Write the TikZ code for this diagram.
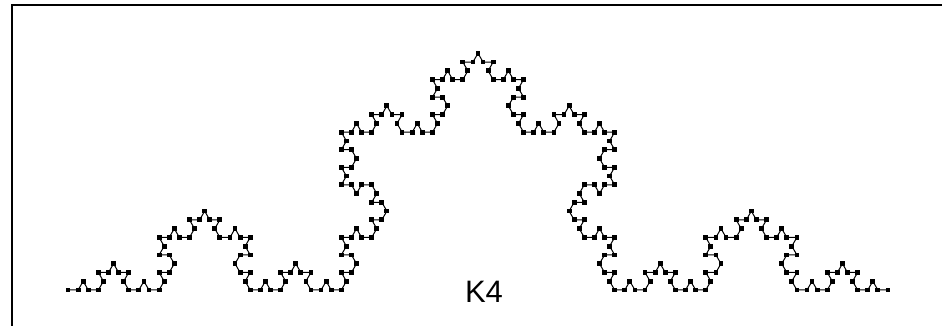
\documentclass[tikz,border=0pt]{standalone}
\usepackage{fontspec}
\setmainfont{Liberation Sans}
\usetikzlibrary{calc}

\begin{document}
\begin{tikzpicture}[
  x=1pt,y=1pt,
  declare function={kturn(\d)=(\d==1)*60-(\d==2)*60;},
  curve/.style={line width=1pt,black},
  vtx/.style={rectangle,fill=black,inner sep=0pt,minimum size=4.8pt},
  frame/.style={line width=2pt,black},
  lbl/.style={font=\fontsize{31}{32}\selectfont}
]
\useasboundingbox (0,0) rectangle (942,326);

% frame, cut off at the right and bottom
\coordinate (f1) at (12,0);
\coordinate (f2) at (12,320.5);
\coordinate (f3) at (942,320.5);
\draw[frame] (f1) -- (f2) -- (f3);

% Koch curve of level 4: 256 segments
\def\seg{10.1235pt}
\coordinate (p0) at (68,36);
\foreach \i in {0,...,255}{
  \pgfmathsetmacro\ang{kturn(mod(\i,4))+kturn(mod(floor(\i/4),4))
    +kturn(mod(floor(\i/16),4))+kturn(floor(\i/64))}
  \pgfmathtruncatemacro\k{\i+1}
  \coordinate (p\k) at ($(p\i)+(\ang:\seg)$);
}
\draw[curve] (p0) \foreach \i in {1,...,256}{ -- (p\i)};
\foreach \i in {0,...,256}{
  \node[vtx] at (p\i) {};
}

\node[lbl] (name) at (484,34) {K4};
\end{tikzpicture}
\end{document}
